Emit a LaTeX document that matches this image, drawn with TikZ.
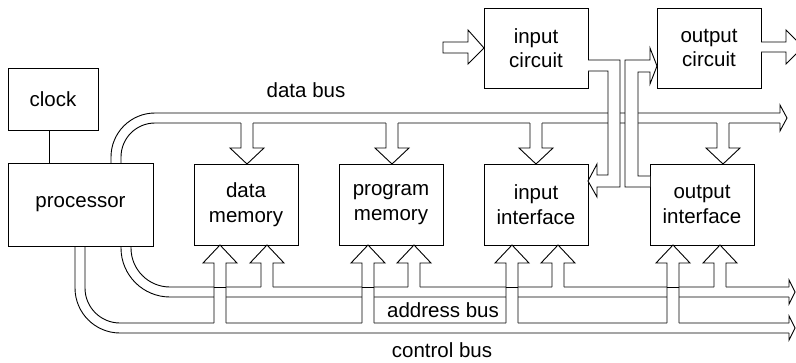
\documentclass[tikz,border=0pt]{standalone}
\usepackage{fontspec}
\setmainfont{Liberation Sans}
\newcommand\dnarw[1]{%
  \fill[white] (#1-6,118) rectangle (#1+6,149);
  \draw[fill=white] (#1-6,123) -- (#1-6,148) -- (#1-17,148) -- (#1,164) -- (#1+17,148) -- (#1+6,148) -- (#1+6,123);}
\newcommand\uparw[2]{%
  \fill[white] (#1-6,#2+5) rectangle (#1+6,262);
  \draw[fill=white] (#1-6,#2) -- (#1-6,263) -- (#1-17,263) -- (#1,245) -- (#1+17,263) -- (#1+6,263) -- (#1+6,#2);}
\begin{document}
\begin{tikzpicture}[x=1pt,y=-1pt,line width=0.9pt,
  box/.style={draw,rectangle,inner sep=0pt,outer sep=0pt,anchor=north west,align=center,
    font=\fontsize{20.5}{24.5}\selectfont},
  lbl/.style={anchor=base,inner sep=0pt,font=\fontsize{20.5}{24.5}\selectfont}]
\useasboundingbox (0,0) rectangle (796,362);
\clip (0,0) rectangle (796,362);
% boxes
\node[box,minimum width=90pt,minimum height=62pt] (clock) at (8,68) {clock};
\node[box,minimum width=145pt,minimum height=83pt] (proc) at (8,163) {processor};
\node[box,minimum width=104pt,minimum height=81pt] (dmem) at (194,164) {data\\memory};
\node[box,minimum width=104pt,minimum height=81pt] (pmem) at (339,164) {program\\memory};
\node[box,minimum width=104pt,minimum height=81pt] (iif) at (484,164) {input\\interface};
\node[box,minimum width=104pt,minimum height=81pt] (oif) at (650,164) {output\\interface};
\node[box,minimum width=104pt,minimum height=80pt] (icir) at (484,8) {input\\circuit};
\node[box,minimum width=104pt,minimum height=80pt] (ocir) at (657,8) {output\\circuit};
% clock connector
\draw ([xshift=-4pt]clock.south) -- ([xshift=-4pt]clock.south |- proc.north);
% labels
\node[lbl] (dbl) at (306,97) {data bus};
\node[lbl] (abl) at (443,317) {address bus};
\node[lbl] (cbl) at (442,357) {control bus};
% data bus
\draw[rounded corners=44pt] (111,163) -- (111,113) -- (780,113);
\draw[rounded corners=34pt] (121,163) -- (121,123) -- (780,123);
\draw (780,113) -- (780,105) -- (787,118) -- (780,131) -- (780,123);
% address bus
\draw[rounded corners=39pt] (131,246) -- (131,287) -- (789,287);
\draw[rounded corners=49pt] (121,246) -- (121,297) -- (789,297);
\draw (789,287) -- (789,280) -- (795,292) -- (789,304) -- (789,297);
% control bus
\draw[rounded corners=35pt] (85,246) -- (85,323) -- (789,323);
\draw[rounded corners=45pt] (75,246) -- (75,333) -- (789,333);
\draw (789,323) -- (789,316) -- (795,328) -- (789,340) -- (789,333);
% data bus arrows
\dnarw{247}\dnarw{392}\dnarw{536}\dnarw{723}
% address bus arrows
\uparw{267}{287}\uparw{414}{287}\uparw{558}{287}\uparw{720}{287}
% control bus arrows
\uparw{220}{323}\uparw{368}{323}\uparw{512}{323}\uparw{673}{323}
\foreach \c in {220,368,512,673} \draw (\c-6,287) -- (\c+6,287);
% input arrow to input circuit
\draw[fill=white] (443,42) -- (468,42) -- (468,30) -- (icir.west) -- (468,64) -- (468,53) -- (443,53) -- cycle;
% output arrow from output circuit
\draw[fill=white] (ocir.east |- 0,42) -- (786,42) -- (786,30) -- (803,47) -- (786,64) -- (786,52) -- (ocir.east |- 0,52);
% input circuit -> input interface
\draw[fill=white] (588,60) -- (620,60) -- (620,187) -- (597,187) -- (597,197) -- (588,181) -- (597,164) -- (597,175) -- (608,175) -- (608,71) -- (588,71);
% output interface -> output circuit
\draw[fill=white] (650,187) -- (625,187) -- (625,60) -- (650,60) -- (650,48) -- (657,66) -- (650,84) -- (650,72) -- (638,72) -- (638,176) -- (650,176);
\end{tikzpicture}
\end{document}
